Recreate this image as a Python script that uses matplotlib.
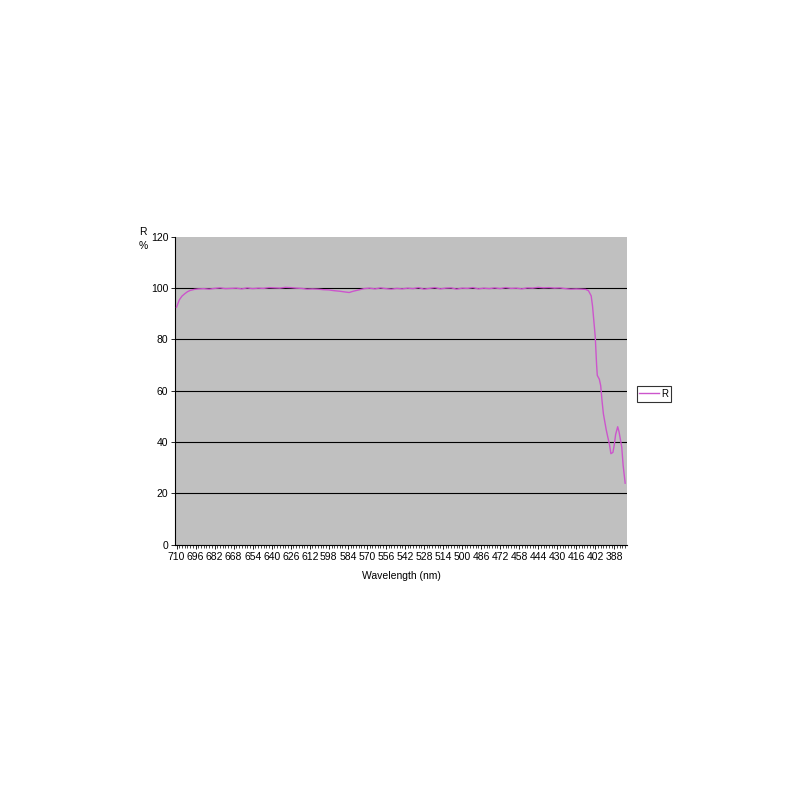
import numpy as np
import matplotlib.pyplot as plt
from matplotlib.ticker import MultipleLocator

plt.rcParams['font.family'] = ['Liberation Sans', 'DejaVu Sans']

# Reflectance curve (wavelength in nm, R in %)
longitud = [710, 708, 706, 704, 702, 700, 697, 694, 690, 686, 682, 678, 674, 670,
            666, 662, 658, 654, 650, 646, 642, 638, 634, 630, 626, 622, 618, 614,
            610, 606, 602, 598, 594, 590, 586, 583, 580, 576, 572, 568, 564, 560,
            556, 552, 548, 544, 540, 536, 532, 528, 524, 520, 516, 512, 508, 504,
            500, 496, 492, 488, 484, 480, 476, 472, 468, 464, 460, 456, 452, 448,
            444, 440, 436, 432, 428, 424, 420, 416, 412, 409, 407, 405, 404, 403,
            402, 401, 400.5, 399, 398, 397, 396, 394, 393, 391.5, 390.5, 389, 388,
            387, 385.5, 384.5, 383.5, 382.5, 381.5, 380]
reflectancia = [92.6, 95.4, 96.9, 97.8, 98.6, 99.1, 99.5, 99.7, 99.8, 99.6, 99.9, 100.1, 99.8, 99.9,
                100.0, 99.7, 100.1, 99.8, 100.0, 99.9, 100.2, 100.1, 100.0, 100.3, 100.2, 100.0, 99.9, 99.6,
                99.7, 99.6, 99.4, 99.3, 99.0, 98.8, 98.5, 98.3, 98.8, 99.3, 99.8, 100.0, 99.7, 100.1,
                99.8, 99.6, 99.9, 99.7, 100.0, 99.8, 100.2, 99.6, 99.9, 100.2, 99.7, 100.0, 100.1, 99.6,
                100.0, 99.9, 100.2, 99.7, 100.0, 99.8, 100.1, 99.8, 100.2, 99.9, 100.0, 99.7, 100.1, 100.0,
                100.3, 100.1, 100.2, 100.0, 100.1, 99.8, 99.6, 99.7, 99.6, 99.5, 99.0, 97.0, 93.0, 87.0,
                81.0, 70.0, 66.0, 64.5, 62.0, 56.0, 51.0, 45.0, 42.5, 39.0, 35.5, 36.0, 39.0,
                43.0, 46.0, 44.0, 41.0, 38.0, 31.0, 24.0]

etiquetas_x = list(range(710, 387, -14))
etiquetas_y = [0, 20, 40, 60, 80, 100, 120]
rejilla_y = [20, 40, 60, 80, 100]

fig = plt.figure(figsize=(8, 8), dpi=100)
ax = fig.add_axes([0.219, 0.319, 0.565, 0.385])
ax.set_facecolor('#c0c0c0')

for y in rejilla_y:
    ax.axhline(y, color='black', linewidth=0.8, zorder=1)

ax.plot(longitud, reflectancia, color='#cc55cc', linewidth=1.0, label='R', zorder=3)

ax.set_xlim(711, 378.5)
ax.set_ylim(0, 120)
ax.set_xticks(etiquetas_x)
ax.xaxis.set_minor_locator(MultipleLocator(2))
ax.set_yticks(etiquetas_y)

for lado in ['top', 'right']:
    ax.spines[lado].set_visible(False)
ax.spines['left'].set_linewidth(0.8)
ax.spines['bottom'].set_linewidth(0.8)

ax.tick_params(axis='both', which='major', direction='out', length=3, width=0.6,
               labelsize=7.5, pad=2)
ax.tick_params(axis='x', which='minor', direction='out', length=2.5, width=0.5)

ax.set_xlabel('Wavelength (nm)', fontsize=7.5, labelpad=7)
fig.text(0.179, 0.71, 'R', fontsize=7.5, ha='center', va='center')
fig.text(0.179, 0.6925, '%', fontsize=7.5, ha='center', va='center')

leg = ax.legend(loc='center left', bbox_to_anchor=(1.01, 0.49), fontsize=7,
                frameon=True, fancybox=False, edgecolor='black', handlelength=2,
                borderpad=0.3, handletextpad=0.2)
leg.get_frame().set_linewidth(0.8)

fig.savefig('out.png', dpi=100, facecolor='white')
